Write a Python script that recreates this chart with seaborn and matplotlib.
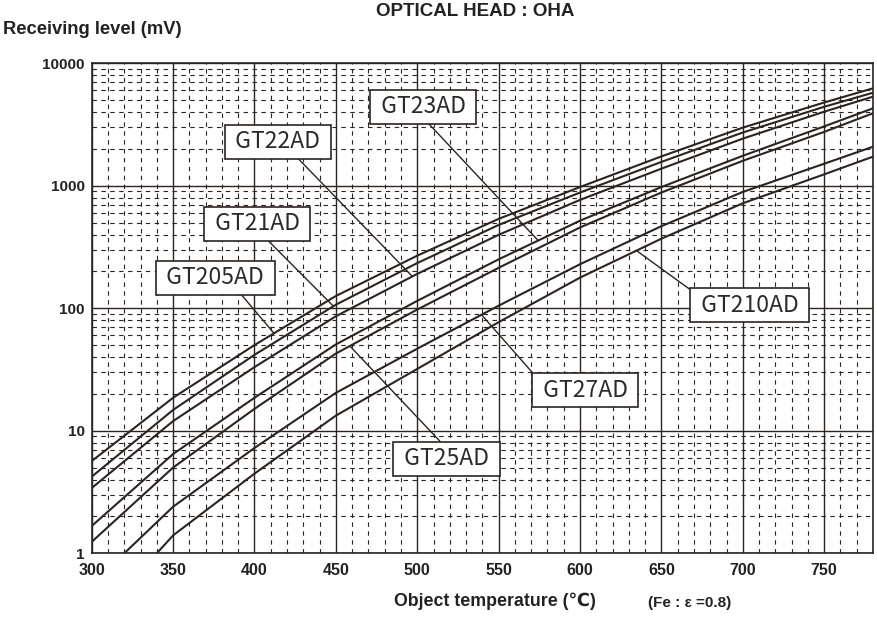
import numpy as np
import pandas as pd
import matplotlib
matplotlib.use("Agg")
import matplotlib.pyplot as plt
import seaborn as sns
from matplotlib.ticker import MultipleLocator, LogLocator, FixedLocator, FixedFormatter, NullFormatter

# ---------------- data ----------------
temps = [300, 350, 400, 450, 500, 550, 600, 650, 700, 750, 780]
temps_gt27 = [320, 350, 400, 450, 500, 550, 600, 650, 700, 750, 780]
temps_gt210 = [340, 350, 400, 450, 500, 550, 600, 650, 700, 750, 780]

gt205ad = [5.66, 18.6, 50.1, 126, 269, 537, 977, 1738, 2985, 4786, 6250]
gt21ad = [4.22, 14.8, 41.7, 107, 234, 479, 881, 1567, 2723, 4416, 5750]
gt22ad = [3.41, 12.0, 33.1, 86.1, 191, 398, 767, 1380, 2427, 4027, 5340]
gt23ad = [1.67, 6.46, 18.6, 50.7, 115, 251, 519, 977, 1758, 3055, 4290]
gt25ad = [1.24, 5.01, 15.1, 42.7, 97.7, 214, 457, 881, 1600, 2754, 3910]
gt27ad = [1.0, 2.40, 7.24, 20.4, 46.8, 105, 229, 468, 891, 1514, 2085]
gt210ad = [1.0, 1.40, 4.47, 13.3, 32.0, 77.0, 178, 370, 720, 1240, 1730]

models = ["GT205AD", "GT21AD", "GT22AD", "GT23AD", "GT25AD", "GT27AD", "GT210AD"]
model_temps = [temps, temps, temps, temps, temps, temps_gt27, temps_gt210]
model_values = [gt205ad, gt21ad, gt22ad, gt23ad, gt25ad, gt27ad, gt210ad]

x_ticks = [300, 350, 400, 450, 500, 550, 600, 650, 700, 750]
y_ticks = [1, 10, 100, 1000, 10000]
y_tick_labels = ["1", "10", "100", "1000", "10000"]

title_text = "OPTICAL HEAD : OHA"
ylabel_text = "Receiving level (mV)"
xlabel_text = "Object temperature (\u2103)"
note_text = "(Fe : \u03b5 =0.8)"

# label layout: (box centre T, box centre level, pointer T on its curve, relpos)
label_layout = {
    "GT23AD": (503.8, 4437, 574.3, (0.5, 0.0)),
    "GT22AD": (414.3, 2291, 497.0, (0.66, 0.0)),
    "GT21AD": (401.6, 490, 448.5, (0.56, 0.0)),
    "GT205AD": (375.8, 178, 412.0, (0.7, 0.0)),
    "GT210AD": (704.3, 106, 634.7, (0.0, 1.0)),
    "GT27AD": (603.2, 21.5, 539.5, (0.0, 1.0)),
    "GT25AD": (518.0, 5.92, 458.6, (0.49, 1.0)),
}

# ---------------- style ----------------
sns.set_theme(style="white")
INK = "#2b2421"
TXT = "#222222"
plt.rcParams["font.family"] = ["Liberation Sans", "DejaVu Sans", "Noto Sans CJK JP"]
plt.rcParams["axes.edgecolor"] = INK
box_family = ["Noto Sans CJK JP", "DejaVu Sans"]

rows = []
for name, ts, vs in zip(models, model_temps, model_values):
    for t, v in zip(ts, vs):
        rows.append({"temp": t, "level": v, "model": name})
df = pd.DataFrame(rows)

fig = plt.figure(figsize=(8.77, 6.17), dpi=100)
ax = fig.add_axes([91.7 / 877, 1 - 553.3 / 617, (873 - 91.7) / 877, (553.3 - 63.3) / 617])

sns.lineplot(data=df, x="temp", y="level", hue="model", hue_order=models,
             palette=[INK] * len(models), legend=False, ax=ax,
             linewidth=1.5, zorder=3)

ax.set_yscale("log")
ax.set_xlim(300, 780)
ax.set_ylim(1, 10000)

ax.xaxis.set_major_locator(FixedLocator(x_ticks))
ax.xaxis.set_minor_locator(MultipleLocator(10))
ax.yaxis.set_major_locator(FixedLocator(y_ticks))
ax.yaxis.set_major_formatter(FixedFormatter(y_tick_labels))
ax.yaxis.set_minor_locator(LogLocator(base=10, subs=np.arange(2, 10)))
ax.yaxis.set_minor_formatter(NullFormatter())

ax.set_axisbelow(True)
ax.grid(which="major", color=INK, linewidth=1.0, linestyle="-")
ax.grid(which="minor", color=INK, linewidth=0.8, linestyle=(0, (4, 4)))

for s in ax.spines.values():
    s.set_visible(True)
    s.set_color(INK)
    s.set_linewidth(1.2)

ax.tick_params(axis="both", which="both", length=0)
ax.tick_params(axis="x", pad=7)
ax.tick_params(axis="y", pad=5)
for lab in ax.get_xticklabels():
    lab.set_fontsize(11.5)
    lab.set_fontweight("bold")
    lab.set_color(TXT)
for lab in ax.get_yticklabels():
    lab.set_fontsize(11)
    lab.set_fontweight("bold")
    lab.set_color(TXT)
ax.set_xlabel("")
ax.set_ylabel("")

# label boxes with pointer lines
for name, ts, vs in zip(models, model_temps, model_values):
    bx, by, pt, rel = label_layout[name]
    py = 10 ** np.interp(pt, ts, np.log10(vs))
    ax.annotate(" " + name + " ", xy=(pt, py), xytext=(bx, by),
                ha="center", va="center", fontsize=16.5, family=box_family,
                color="#2a2a2a", zorder=5,
                bbox=dict(boxstyle="square,pad=0.24", fc="white", ec=INK, lw=1.2),
                arrowprops=dict(arrowstyle="-", color=INK, lw=1.0,
                                shrinkA=0, shrinkB=0, relpos=rel))

# texts
fig.text(475 / 877, 1 - 11 / 617, title_text, ha="center", va="center",
         fontsize=13.5, fontweight="bold", color=TXT)
fig.text(3 / 877, 1 - 30 / 617, ylabel_text, ha="left", va="center",
         fontsize=13.2, fontweight="bold", color=TXT)
fig.text(495 / 877, 1 - 601 / 617, xlabel_text, ha="center", va="center",
         fontsize=12.8, fontweight="bold", color=TXT)
fig.text(690 / 877, 1 - 603 / 617, note_text, ha="center", va="center",
         fontsize=11, fontweight="bold", color=TXT)

fig.savefig("out.png", dpi=100, facecolor="white")
